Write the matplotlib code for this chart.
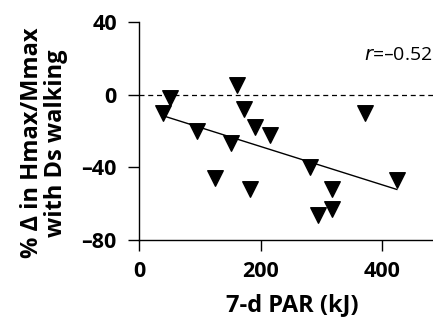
import numpy as np
import matplotlib
matplotlib.use("Agg")
import matplotlib.pyplot as plt

par_kj = [40, 51, 95, 125, 152, 161, 173, 183, 191, 215, 281, 294, 318, 318, 372, 424]
delta_pct = [-10, -2, -20, -46, -26.5, 5.5, -8, -52, -18, -22, -40, -66, -52, -63, -10, -47]
x_ticks = [0, 200, 400]
y_ticks = [-80, -40, 0, 40]
r_label = "–0.52"

plt.rcParams['font.family'] = ['Open Sans', 'DejaVu Sans']

fig = plt.figure(figsize=(4.33, 3.23), dpi=100)
ax = fig.add_axes([139/433, 1-240/323, (440-139)/433, (240-22)/323])

x = np.array(par_kj, float)
y = np.array(delta_pct, float)
m, b = np.polyfit(x, y, 1)
xl = np.array([x.min(), x.max()])
ax.plot(xl, m*xl + b, color='black', lw=1.0)
ax.axhline(0, color='black', lw=0.9, ls=(0, (4, 3)))
ax.scatter(x, y, marker='v', s=125, color='black', zorder=3, clip_on=False)

ax.set_xlim(0, 495)
ax.set_ylim(-80, 40)
ax.set_xticks(x_ticks)
ax.set_yticks(y_ticks)
ax.set_yticklabels([str(t).replace('-', '–') for t in y_ticks])
for s in ['top', 'right']:
    ax.spines[s].set_visible(False)
for s in ['left', 'bottom']:
    ax.spines[s].set_linewidth(1.0)
ax.tick_params(axis='y', direction='out', length=8, width=1.0, labelsize=15.5, pad=8)
ax.tick_params(axis='x', direction='out', length=8, width=1.0, labelsize=15.5, pad=7)
for lab in ax.get_xticklabels() + ax.get_yticklabels():
    lab.set_fontweight('bold')

fig.text(292/433, 1-305/323, '7-d PAR (kJ)', fontsize=17, fontweight='bold',
         ha='center', va='center')
fig.text(44/433, 1-143/323, '% Δ in Hmax/Mmax\nwith Ds walking', fontsize=17,
         fontweight='bold', rotation=90, ha='center', va='center',
         multialignment='center', linespacing=0.95)
fig.text(432/433, 1-55/323, r'$\it{r}$=' + r_label, ha='right', va='center', fontsize=14)

fig.savefig('out.png', dpi=100)
